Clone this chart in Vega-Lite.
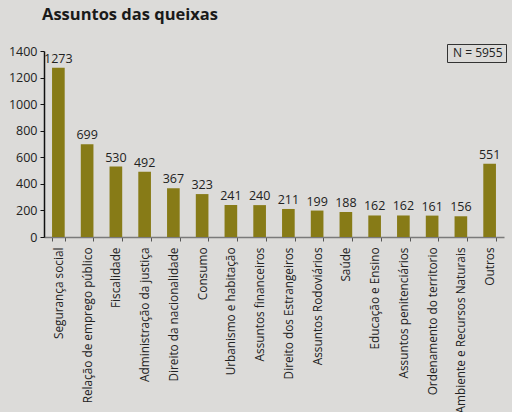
{
  "$schema": "https://vega.github.io/schema/vega-lite/v6.json",
  "width": 460,
  "height": 186,
  "autosize": {"type": "none"},
  "padding": {"left": 44, "top": 51, "right": 8, "bottom": 175},
  "background": "#dcdbd9",
  "config": {
    "view": {"stroke": null},
    "font": "Open Sans"
  },
  "title": {
    "text": "Assuntos das queixas",
    "anchor": "start",
    "frame": "group",
    "offset": 20,
    "dx": -2,
    "fontSize": 16.5,
    "fontWeight": "bold",
    "color": "#1a1a1a",
    "font": "Open Sans"
  },
  "data": {
    "values": [
      {"assunto": "Segurança social", "valor": 1273, "n": "N = 5955"},
      {"assunto": "Relação de emprego público", "valor": 699, "n": "N = 5955"},
      {"assunto": "Fiscalidade", "valor": 530, "n": "N = 5955"},
      {"assunto": "Administração da justiça", "valor": 492, "n": "N = 5955"},
      {"assunto": "Direito da nacionalidade", "valor": 367, "n": "N = 5955"},
      {"assunto": "Consumo", "valor": 323, "n": "N = 5955"},
      {"assunto": "Urbanismo e habitação", "valor": 241, "n": "N = 5955"},
      {"assunto": "Assuntos financeiros", "valor": 240, "n": "N = 5955"},
      {"assunto": "Direito dos Estrangeiros", "valor": 211, "n": "N = 5955"},
      {"assunto": "Assuntos Rodoviários", "valor": 199, "n": "N = 5955"},
      {"assunto": "Saúde", "valor": 188, "n": "N = 5955"},
      {"assunto": "Educação e Ensino", "valor": 162, "n": "N = 5955"},
      {"assunto": "Assuntos penitenciários", "valor": 162, "n": "N = 5955"},
      {"assunto": "Ordenamento do territorio", "valor": 161, "n": "N = 5955"},
      {"assunto": "Ambiente e Recursos Naturais", "valor": 156, "n": "N = 5955"},
      {"assunto": "Outros", "valor": 551, "n": "N = 5955"}
    ]
  },
  "encoding": {
    "x": {
      "field": "assunto",
      "type": "nominal",
      "sort": null,
      "scale": {"paddingInner": 0.56, "paddingOuter": 0.28},
      "axis": {
        "title": null,
        "labelAngle": -90,
        "labelAlign": "right",
        "labelBaseline": "middle",
        "labelFontSize": 11.8,
        "labelColor": "#222222",
        "labelPadding": 6,
        "domainColor": "#7a7a7a",
        "domainWidth": 1.5,
        "tickColor": "#555555",
        "tickSize": 4,
        "tickBand": "extent",
        "labelLimit": 300
      }
    },
    "y": {
      "field": "valor",
      "type": "quantitative",
      "scale": {"domain": [0, 1400], "nice": false},
      "axis": {
        "title": null,
        "values": [0, 200, 400, 600, 800, 1000, 1200, 1400],
        "format": "d",
        "grid": false,
        "labelFontSize": 12.5,
        "labelColor": "#222222",
        "domainColor": "#111111",
        "domainWidth": 1.5,
        "tickColor": "#111111",
        "tickSize": 4,
        "labelPadding": 3
      }
    }
  },
  "layer": [
    {
      "mark": {"type": "bar"},
      "encoding": {
        "color": {
          "field": "n",
          "type": "nominal",
          "scale": {"range": ["#877b17"]},
          "legend": {
            "title": null,
            "orient": "none",
            "legendX": 403,
            "legendY": -7,
            "symbolOpacity": 0,
            "symbolSize": 0,
            "symbolStrokeWidth": 0,
            "labelOffset": -9,
            "labelFontSize": 12,
            "labelColor": "#222222",
            "strokeColor": "#333333",
            "fillColor": "#dcdbd9",
            "padding": 3
          }
        }
      }
    },
    {
      "mark": {"type": "text", "baseline": "bottom", "dy": -2, "fontSize": 12.5, "color": "#222222"},
      "encoding": {"text": {"field": "valor", "type": "quantitative"}}
    }
  ]
}
